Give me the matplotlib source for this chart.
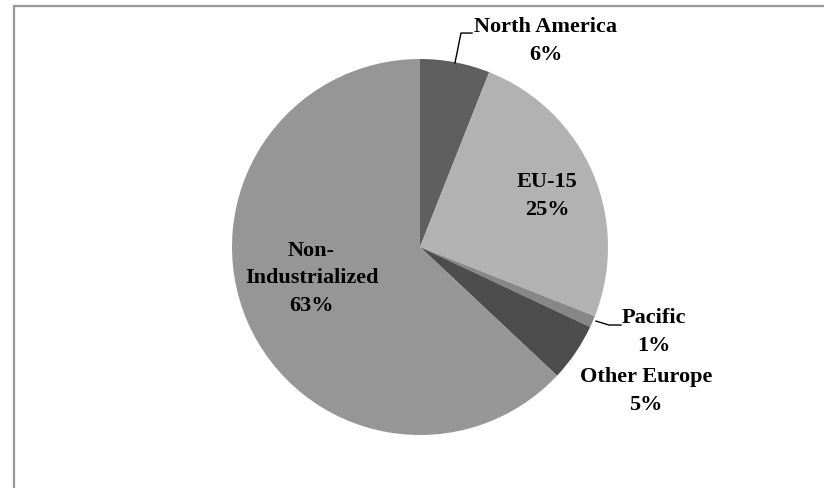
import matplotlib
matplotlib.use("Agg")
import matplotlib.pyplot as plt
from matplotlib.lines import Line2D

# regional shares, clockwise from 12 o'clock
regions = ["North America", "EU-15", "Pacific", "Other Europe", "Non-\nIndustrialized"]
shares = [6, 25, 1, 5, 63]
colors = ["#5f5f5f", "#b2b2b2", "#878787", "#4d4d4d", "#969696"]

plt.rcParams["font.family"] = ["Liberation Serif", "DejaVu Serif"]

fig = plt.figure(figsize=(8.24, 4.88), dpi=100)
W, H = 824, 488
cx, cy, r = 420, 247, 188
ax = fig.add_axes([(cx - r) / W, (H - cy - r) / H, 2 * r / W, 2 * r / H])

ax.pie(shares, colors=colors, startangle=90, counterclock=False, radius=1.0,
       wedgeprops=dict(linewidth=0))
ax.set_xlim(-1, 1)
ax.set_ylim(-1, 1)
ax.set_aspect("equal")
ax.axis("off")

labels = [f"{n}\n{v}%" for n, v in zip(regions, shares)]
style = dict(fontsize=16, fontweight="bold", ha="center", va="center",
             linespacing=1.5, color="black")

# label positions in pie units (radius = 1)
label_pos = [(0.67, 1.096), (0.676, 0.271), (1.245, -0.452),
             (1.202, -0.766), (-0.577, -0.165)]
for text, (x, y) in zip(labels, label_pos):
    ax.text(x, y, text, clip_on=False, **style)

# leader lines for the two outside labels
ax.add_line(Line2D([0.186, 0.218, 0.277], [0.979, 1.138, 1.138],
                   color="black", lw=1.0, clip_on=False))
ax.add_line(Line2D([0.936, 1.005, 1.069], [-0.394, -0.415, -0.415],
                   color="black", lw=1.0, clip_on=False))

# chart-area frame (top and left edges)
fig.add_artist(Line2D([13.5 / W, 1], [1 - 5.5 / H, 1 - 5.5 / H],
                      transform=fig.transFigure, color="#999999", lw=1.6))
fig.add_artist(Line2D([13.5 / W, 13.5 / W], [0, 1 - 5.5 / H],
                      transform=fig.transFigure, color="#999999", lw=1.6))

fig.savefig("out.png", dpi=100, facecolor="white")
